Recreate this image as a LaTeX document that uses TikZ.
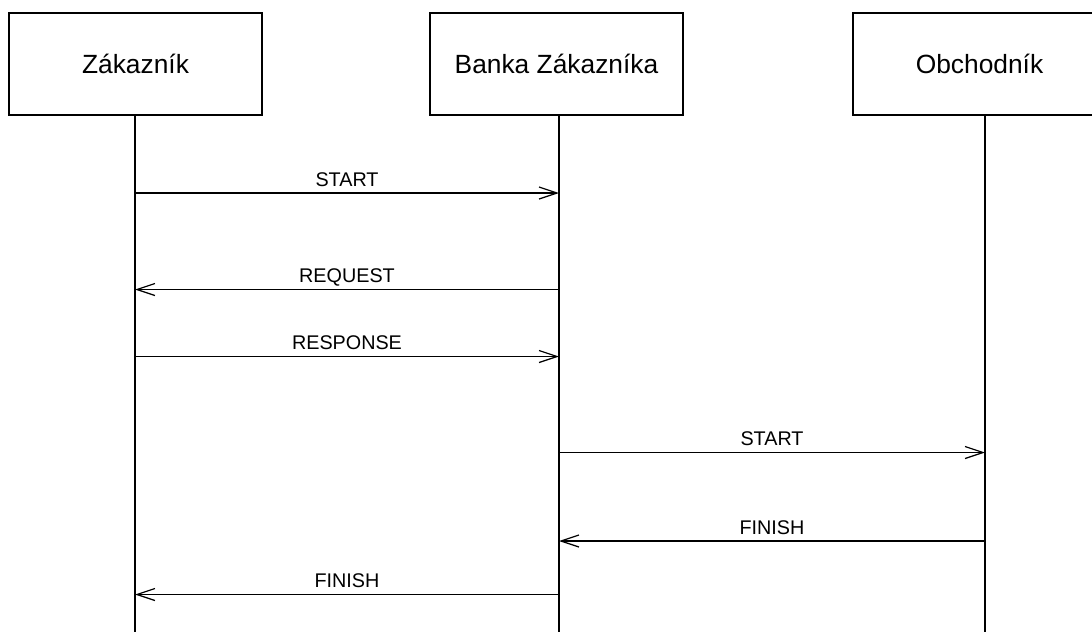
\documentclass[tikz,border=0pt]{standalone}
\usepackage{fontspec}
\setmainfont{Liberation Sans}
\usetikzlibrary{arrows.meta}

\begin{document}
\begin{tikzpicture}[ > = {Straight Barb[length=3.6mm,width=2.4mm]},
    line width=0.7pt,
    actor/.style={draw, minimum width=5.06cm, minimum height=2.04cm, inner sep=0pt, font=\fontsize{15}{18}\selectfont},
    msg/.style={->},
    lbl/.style={anchor=base, yshift=1.4mm, inner sep=0pt, font=\fontsize{11.25}{13}\selectfont}]

         \useasboundingbox (0,0) rectangle (21.84,-12.64);

         % actors
         \node[actor](zak) at (2.71,-1.28) {Zákazník};
         \node[actor](bank) at (11.13,-1.28) {Banka Zákazníka};
         \node[actor](obch) at (19.59,-1.28) {Obchodník};

         % lifelines
         \coordinate (zakL) at (2.70,-12.64);
         \coordinate (bankL) at (11.18,-12.64);
         \coordinate (obchL) at (19.70,-12.64);
         \draw (zakL |- zak.south) -- (zakL);
         \draw (bankL |- bank.south) -- (bankL);
         \draw (obchL |- obch.south) -- (obchL);

         % messages
         \draw[msg] (zakL |- 0,-3.86) -- node[lbl](m1){START} (bankL |- 0,-3.86);
         \draw[msg] (bankL |- 0,-5.79) -- node[lbl](m2){REQUEST} (zakL |- 0,-5.79);
         \draw[msg] (zakL |- 0,-7.13) -- node[lbl](m3){RESPONSE} (bankL |- 0,-7.13);
         \draw[msg] (bankL |- 0,-9.05) -- node[lbl](m4){START} (obchL |- 0,-9.05);
         \draw[msg] (obchL |- 0,-10.82) -- node[lbl](m5){FINISH} (bankL |- 0,-10.82);
         \draw[msg] (bankL |- 0,-11.89) -- node[lbl](m6){FINISH} (zakL |- 0,-11.89);

\end{tikzpicture}
\end{document}
